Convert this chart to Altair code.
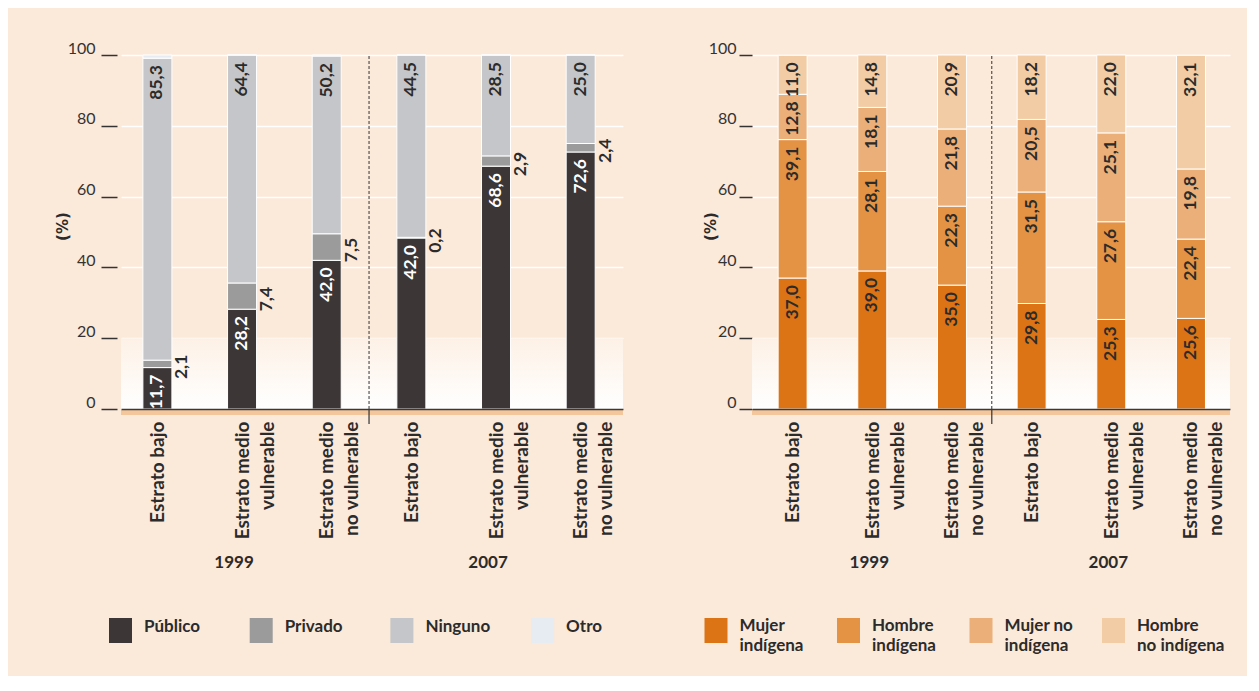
import json
import altair as alt
import pandas as pd

# ---------------- data ----------------
categories = ["Estrato bajo", "Estrato medio\nvulnerable", "Estrato medio\nno vulnerable",
              "Estrato bajo", "Estrato medio\nvulnerable", "Estrato medio\nno vulnerable"]
years = ["1999", "2007"]

# left panel (bar heights as drawn, and printed labels)
left_names = ["Público", "Privado", "Ninguno", "Otro"]
publico = [11.7, 28.2, 42.0, 48.3, 68.6, 72.6]
privado = [2.1, 7.4, 7.5, 0.2, 2.9, 2.4]
ninguno = [85.3, 64.4, 50.2, 51.5, 28.5, 25.0]
otro = [0.9, 0.0, 0.3, 0.0, 0.0, 0.0]
publico_lbl = ["11,7", "28,2", "42,0", "42,0", "68,6", "72,6"]
privado_lbl = ["2,1", "7,4", "7,5", "0,2", "2,9", "2,4"]
ninguno_lbl = ["85,3", "64,4", "50,2", "44,5", "28,5", "25,0"]
otro_lbl = ["", "", "", "", "", ""]
left_colors = ["#3C3637", "#9B9B9B", "#C5C6C9", "#E7ECF2"]

# right panel
right_names = ["Mujer indígena", "Hombre indígena", "Mujer no indígena", "Hombre no indígena"]
right_legend = ["Mujer\nindígena", "Hombre\nindígena", "Mujer no\nindígena", "Hombre\nno indígena"]
mujer_ind = [37.0, 39.0, 35.0, 29.8, 25.3, 25.6]
hombre_ind = [39.1, 28.1, 22.3, 31.5, 27.6, 22.4]
mujer_no = [12.8, 18.1, 21.8, 20.5, 25.1, 19.8]
hombre_no = [11.0, 14.8, 20.9, 18.2, 22.0, 32.1]
right_colors = ["#DC7315", "#E49244", "#EBAF79", "#F2CCA4"]


def fmt(v):
    return f"{v:.1f}".replace(".", ",")


# ---------------- styling ----------------
FONT = "Lato"
NUM_FONT = "Lato"
TITLE_FONT = "DejaVu Sans"
BG = "#FBE9DA"
DARK = "#2B2B2B"
H = 354
W_L, W_R = 502, 478


def long_df(names, values, labels, tcolors, sides):
    rows = []
    for k, name in enumerate(names):
        for i, v in enumerate(values[k]):
            rows.append(dict(pos=i, serie=name, value=v, order=k, lab=labels[k][i],
                             tc=tcolors[k], side=sides[k]))
    return pd.DataFrame(rows)


left_df = long_df(left_names, [publico, privado, ninguno, otro],
                  [publico_lbl, privado_lbl, ninguno_lbl, otro_lbl],
                  ["white", DARK, DARK, DARK], ["in", "out", "in", "none"])
right_vals = [mujer_ind, hombre_ind, mujer_no, hombre_no]
right_df = long_df(right_names, right_vals,
                   [[fmt(v) for v in s] for s in right_vals],
                   [DARK] * 4, ["in"] * 4)


def panel(df, names, colors, legend_labels, width, domain, legend_x0, legend_step,
          tick_size, axis_offset, label_pad, title_x, year_dx, multiline_legend):
    cscale = alt.Scale(domain=names, range=colors)
    one = pd.DataFrame({"a": [0]})
    label_arr = json.dumps([c.split("\n") for c in categories], ensure_ascii=False)

    xaxis = alt.Axis(values=[0, 1, 2, 3, 4, 5], labelExpr=f"{label_arr}[round(datum.value)]",
                     labelAngle=270, labelAlign="right", labelBaseline="middle",
                     labelFont=FONT, labelFontSize=19, labelFontWeight="bold",
                     labelColor=DARK, labelPadding=12, labelLineHeight=25,
                     ticks=False, domain=True, domainColor="#3A3A3A", domainWidth=1.5,
                     grid=False, zindex=1, title=None)
    xscale = alt.Scale(domain=domain, nice=False, zero=False, padding=0)
    yaxis = alt.Axis(values=[0, 20, 40, 60, 80, 100], title="(%)",
                     titleFont=TITLE_FONT, titleFontSize=15, titleFontWeight="bold",
                     titleColor=DARK, titleAngle=270, titleX=title_x, titleY=H / 2 - 6,
                     titleAlign="center", titleBaseline="middle",
                     labelFont=NUM_FONT, labelFontSize=16, labelColor="#333333",
                     labelBaseline="alphabetic", labelOffset=-2, labelPadding=label_pad,
                     tickSize=tick_size, tickColor="#333333", tickWidth=1.5,
                     offset=axis_offset, domain=False, grid=True, gridColor="white",
                     gridWidth=1.5, zindex=0)
    yscale = alt.Scale(domain=[0, 100], nice=False)

    grad = alt.Gradient(gradient="linear",
                        stops=[alt.GradientStop(color="#FDF1E6", offset=0),
                               alt.GradientStop(color="#FFFFFF", offset=1)],
                        x1=0, x2=0, y1=0, y2=1)
    bg = alt.Chart(one).mark_rect(fill=grad).encode(
        x=alt.value(0), x2=alt.value(width),
        y=alt.Y(datum=20, type="quantitative", scale=yscale, axis=yaxis),
        y2=alt.Y2(datum=0))

    base = alt.Chart(df).transform_stack(
        stack="value", groupby=["pos"], as_=["y0", "y1"],
        sort=[alt.SortField("order", order="ascending")]
    ).transform_calculate(mid="(datum.y0 + datum.y1) / 2")

    bars = base.mark_bar(size=29, stroke="white", strokeWidth=1).encode(
        x=alt.X("pos:Q", scale=xscale, axis=xaxis, title=None),
        y=alt.Y("y0:Q", scale=yscale, axis=yaxis),
        y2="y1:Q",
        color=alt.Color("serie:N", scale=cscale, legend=None))

    txt_in = base.transform_filter("datum.side == 'in'").mark_text(
        angle=270, align="right", baseline="middle", font=FONT, fontSize=17.5,
        fontWeight="bold", yOffset=7).encode(
        x=alt.X("pos:Q", title=None), y=alt.Y("y1:Q", axis=yaxis),
        text="lab:N", color=alt.Color("tc:N", scale=None))

    txt_out = base.transform_filter("datum.side == 'out'").mark_text(
        angle=270, align="center", baseline="middle", font=FONT, fontSize=17.5,
        fontWeight="bold", xOffset=25, yOffset=3, color=DARK).encode(
        x=alt.X("pos:Q", title=None), y=alt.Y("mid:Q", axis=yaxis), text="lab:N")

    sep = alt.Chart(one).mark_rule(strokeDash=[3, 2], color="#333333", strokeWidth=1).encode(
        x=alt.X(datum=2.5, type="quantitative", title=None),
        y=alt.Y(datum=0, type="quantitative", axis=yaxis),
        y2=alt.Y2(datum=100))
    sep_tick = alt.Chart(one).mark_rule(color="#333333", strokeWidth=1.2).encode(
        x=alt.X(datum=2.5, type="quantitative", title=None),
        y=alt.value(H), y2=alt.value(H + 15))

    strip = alt.Chart(one).mark_rule(color="#F4C69B", strokeWidth=5, yOffset=3.5).encode(
        x=alt.value(0), x2=alt.value(width),
        y=alt.Y(datum=0, type="quantitative", axis=yaxis))

    ydf = pd.DataFrame({"pos": [1, 4], "year": years})
    year_txt = alt.Chart(ydf).mark_text(font=FONT, fontSize=17, fontWeight="bold",
                                        color=DARK, xOffset=year_dx).encode(
        x=alt.X("pos:Q", title=None), y=alt.value(H + 154), text="year:N")

    ldf = pd.DataFrame({
        "serie": names,
        "lab": legend_labels,
        "lx": [legend_x0 + i * legend_step for i in range(len(names))],
    })
    ldf["lx2"] = ldf["lx"] + 23
    ldf["tx"] = ldf["lx"] + 35
    leg_sq = alt.Chart(ldf).mark_rect().encode(
        x=alt.X("lx:Q", scale=None), x2="lx2:Q",
        y=alt.value(H + 209), y2=alt.value(H + 234),
        color=alt.Color("serie:N", scale=cscale, legend=None))
    leg_tx = alt.Chart(ldf).mark_text(
        align="left", baseline="top", font=FONT, fontSize=17, fontWeight="bold",
        color=DARK, lineBreak="\n", lineHeight=20).encode(
        x=alt.X("tx:Q", scale=None), y=alt.value(H + 209 + (0 if multiline_legend else 1)),
        text="lab:N")

    return alt.layer(bg, strip, bars, txt_in, txt_out, sep, sep_tick, year_txt,
                     leg_sq, leg_tx).properties(width=width, height=H)


left = panel(left_df, left_names, left_colors, left_names, W_L, [-0.43, 5.5],
             -12, 140.7, 16, 4, 6, -55, -8, False)
right = panel(right_df, right_names, right_colors, right_legend, W_R, [-0.51, 5.49],
              -47.5, 132.5, 13, 0, 3, -42, -3, True)

chart = alt.hconcat(left, right, spacing=129, bounds="flush").resolve_scale(
    color="independent").properties(
    background=BG,
    padding={"left": 47, "top": 32, "right": 14, "bottom": 22},
).configure_view(stroke=None).configure_axisY(
    titleFont=TITLE_FONT, titleFontSize=15, titleFontWeight="bold", titleColor=DARK)

chart.save("out.html", embed_options={"renderer": "svg", "actions": False})
